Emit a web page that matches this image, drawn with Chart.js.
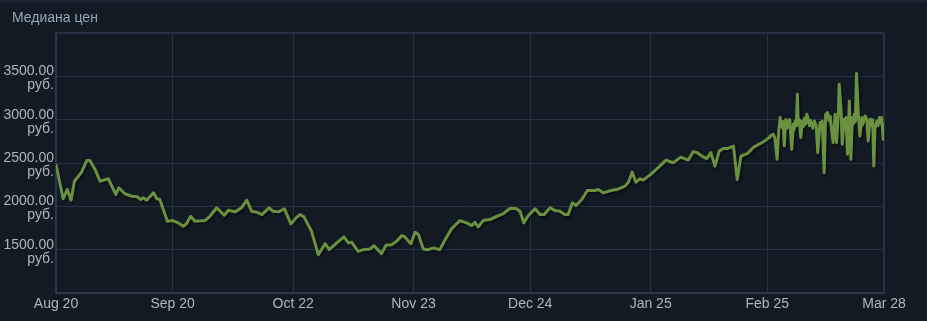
<!DOCTYPE html>
<html>
<head>
<meta charset="utf-8">
<title>Медиана цен</title>
<script src="https://cdn.jsdelivr.net/npm/chart.js@4"></script>
<style>
  html, body { margin: 0; padding: 0; background: #121a24; }
  #wrap { width: 927px; height: 321px; position: relative; }
</style>
</head>
<body>
<div id="wrap"><canvas id="priceChart"></canvas></div>
<script>
// x = days since Aug 20, y = median price (руб.)
// daily sales up to late February
var dailyDays = [
  0, 1.9, 3.0, 4.0, 4.9, 6.8, 8.2, 9.0, 10.4, 11.7, 13.9, 15.9, 16.7, 18.3, 20.1, 21.6, 22.5, 23.2, 24.1, 25.9,
  26.8, 27.6, 29.6, 31.0, 32.5, 33.8, 34.7, 35.8, 36.9, 39.6, 40.9, 42.7, 44.7, 45.8, 47.6, 49.3, 50.7, 52.0, 53.3, 54.7,
  56.6, 57.7, 59.1, 60.7, 62.4, 63.8, 64.8, 65.9, 67.9, 69.7, 71.5, 72.6, 74.6, 76.5, 77.7, 78.6, 80.3, 81.6, 83.4, 84.5,
  86.5, 87.7, 89.2, 90.5, 91.9, 92.5, 94.3, 95.4, 96.3, 97.6, 98.9, 100.3, 102.0, 103.4, 105.1, 107.3, 109.1, 110.5, 111.3, 112.2,
  113.5, 115.3, 117.1, 118.9, 120.6, 122.2, 123.3, 124.3, 125.5, 127.3, 128.6, 129.7, 131.3, 132.6, 133.9, 135.2, 136.1, 137.2, 138.2, 139.7,
  141.2, 143.2, 144.1, 145.4, 147.7, 149.0, 151.2, 152.1, 153.1, 154.1, 155.2, 156.0, 157.8, 160.0, 162.1, 164.0, 166.0, 168.0, 169.3, 170.4,
  171.6, 172.9, 174.0, 175.1, 176.2, 177.3, 178.4, 180.0, 181.0, 182.0, 183.8, 185.4, 187.9, 189.5
];
var dailyPrices = [
  2484, 2087, 2194, 2071, 2290, 2395, 2530, 2530, 2426, 2290, 2318, 2137, 2214, 2145, 2117, 2110, 2079, 2098, 2071, 2156,
  2087, 2079, 1828, 1836, 1809, 1770, 1801, 1885, 1828, 1836, 1885, 1983, 1897, 1955, 1936, 1983, 2071, 1943, 1932, 1905,
  1983, 1943, 1936, 1971, 1797, 1867, 1905, 1878, 1712, 1442, 1569, 1500, 1578, 1647, 1578, 1585, 1480, 1500, 1508, 1546,
  1454, 1550, 1558, 1596, 1662, 1654, 1569, 1700, 1674, 1508, 1500, 1520, 1500, 1616, 1740, 1836, 1809, 1778, 1816, 1763,
  1836, 1847, 1885, 1917, 1975, 1975, 1943, 1809, 1894, 1971, 1905, 1905, 1983, 1951, 1943, 1905, 1905, 2040, 2009, 2079,
  2183, 2183, 2194, 2156, 2186, 2194, 2233, 2279, 2395, 2279, 2318, 2302, 2360, 2446, 2534, 2503, 2568, 2534, 2631, 2619,
  2580, 2550, 2619, 2464, 2638, 2666, 2666, 2696, 2310, 2580, 2611, 2684, 2742, 2793
];
// frequent sales in the last month
var recentDays = [
  189.7, 190.6, 191.0, 191.6, 192.0, 192.4, 192.7, 193.0, 193.2, 193.5,
  193.9, 194.2, 194.6, 194.8, 195.0, 195.5, 195.9, 196.1, 196.4, 196.7,
  197.0, 197.2, 197.5, 197.9, 198.3, 198.6, 198.9, 199.2, 199.5, 199.9,
  200.2, 200.5, 200.8, 201.1, 201.5, 202.0, 202.4, 203.0, 203.3, 203.6,
  204.1, 204.5, 205.0, 205.4, 205.7, 206.1, 206.5, 207.0, 207.4, 207.9,
  208.1, 208.6, 208.9, 209.4, 209.6, 209.9, 210.3, 210.8, 211.2, 211.6,
  211.9, 212.1, 212.4, 212.7, 213.2, 213.6, 214.1, 214.3, 214.5, 214.8,
  215.0, 215.4, 215.8, 216.3, 216.5, 216.7, 217.0, 217.3, 217.6, 218.1,
  218.4, 218.8, 219.1, 219.4, 219.8, 220.0
];
var recentPrices = [
  2811, 2831, 2793, 2542, 2850, 3024, 2940, 2908, 2980, 2696,
  3001, 2900, 2927, 3000, 2966, 2657, 2947, 2880, 2985, 2930,
  3294, 2947, 3000, 2793, 2985, 2920, 3020, 2950, 3062, 3005,
  2930, 2990, 2947, 2900, 2985, 2930, 2619, 2966, 2900, 2985,
  2388, 3062, 3082, 2985, 3040, 2869, 2735, 3062, 2735, 3101,
  3410, 3101, 2715, 3005, 2950, 3024, 2600, 3216, 2542, 3024,
  2950, 3062, 2980, 3533, 3043, 2811, 3024, 2940, 2966, 3030,
  3043, 3005, 2754, 3005, 2930, 2947, 3000, 2464, 2889, 2985,
  2930, 3024, 2960, 3024, 2773, 2966
];
var tickDays = [0, 31, 63, 95, 126, 158, 189, 220];
var tickLabels = ['Aug 20', 'Sep 20', 'Oct 22', 'Nov 23', 'Dec 24', 'Jan 25', 'Feb 25', 'Mar 28'];

var fontFamily = "Arial, 'Liberation Sans', Helvetica, sans-serif";

var days = dailyDays.concat(recentDays);
var prices = dailyPrices.concat(recentPrices);
var points = days.map(function (d, i) { return { x: d, y: prices[i] }; });

// dark page background, thin lighter strip on top, and the title text
var background = {
  id: 'background',
  beforeDraw: function (chart) {
    var c = chart.ctx;
    c.save();
    c.fillStyle = '#121a24';
    c.fillRect(0, 0, chart.width, chart.height);
    c.fillStyle = '#1b2532';
    c.fillRect(0, 0, chart.width, 3);
    c.fillStyle = '#93a8bb';
    c.font = '14px ' + fontFamily;
    c.textBaseline = 'alphabetic';
    c.fillText('Медиана цен', 12, 22);
    c.restore();
  }
};

// jqplot-like shadow under the line
var lineShadow = {
  id: 'lineShadow',
  beforeDatasetsDraw: function (chart) {
    var c = chart.ctx;
    c.save();
    c.shadowColor = 'rgba(0, 0, 0, 0.5)';
    c.shadowOffsetX = 1.5;
    c.shadowOffsetY = 1.5;
    c.shadowBlur = 2;
  },
  afterDatasetsDraw: function (chart) {
    chart.ctx.restore();
  }
};

var ctx = document.getElementById('priceChart').getContext('2d');
var priceChart = new Chart(ctx, {
  type: 'line',
  data: {
    datasets: [{
      label: 'Медиана цен',
      data: points,
      borderColor: '#6a9140',
      borderWidth: 3,
      borderJoinStyle: 'round',
      pointRadius: 0,
      tension: 0,
      fill: false
    }]
  },
  options: {
    responsive: true,
    maintainAspectRatio: false,
    animation: false,
    layout: {
      padding: { left: 0, right: 43, top: 33, bottom: 0 }
    },
    plugins: {
      legend: { display: false },
      tooltip: { enabled: false },
      title: { display: false }
    },
    scales: {
      x: {
        type: 'linear',
        min: 0,
        max: 220,
        afterBuildTicks: function (scale) {
          scale.ticks = tickDays.map(function (v) { return { value: v }; });
        },
        afterFit: function (scale) { scale.height = 28; },
        grid: {
          color: '#243243',
          lineWidth: function (c) { return (c.index === tickDays.length - 1) ? 2 : 1; },
          drawTicks: false
        },
        border: { color: '#2a394b', width: 2 },
        ticks: {
          autoSkip: false,
          maxRotation: 0,
          padding: 3,
          color: '#b0b6bc',
          font: { family: fontFamily, size: 14, lineHeight: 1.2 },
          callback: function (value, index) { return tickLabels[index]; }
        }
      },
      y: {
        min: 1000,
        max: 4000,
        afterFit: function (scale) { scale.width = 56; },
        grid: {
          color: '#243243',
          lineWidth: function (c) { return (c.tick && c.tick.value === 4000) ? 2 : 1; },
          drawTicks: false
        },
        border: { color: '#2a394b', width: 2 },
        ticks: {
          stepSize: 500,
          padding: 2,
          labelOffset: 2,
          color: '#b0b6bc',
          font: { family: fontFamily, size: 14, lineHeight: 1.0 },
          callback: function (value) {
            if (value === 1000 || value === 4000) return '';
            return [value.toFixed(2), 'руб.'];
          }
        }
      }
    }
  },
  plugins: [background, lineShadow]
});
</script>
</body>
</html>
